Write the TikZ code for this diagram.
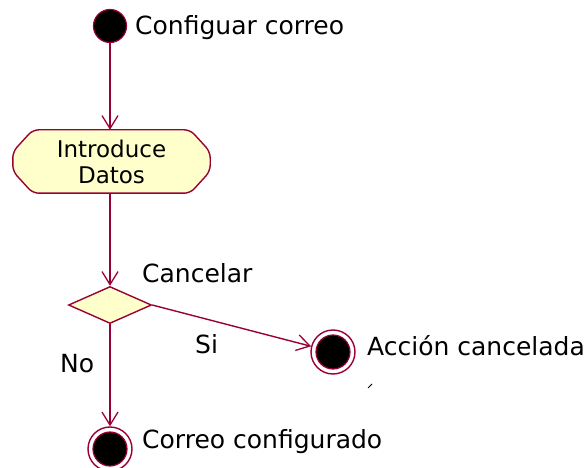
\documentclass[tikz,border=0pt]{standalone}
\usepackage{fontspec}
\setmainfont{DejaVu Sans}
\usetikzlibrary{shapes.geometric,arrows.meta}
\definecolor{umlline}{RGB}{153,0,51}
\definecolor{umlfill}{RGB}{255,255,204}
\begin{document}
\begin{tikzpicture}[x=1pt,y=-1pt,
  conn/.style={draw=umlline,line width=1.4pt,-{Straight Barb[length=13pt,width=16pt,line width=1.3pt]}},
  lbl/.style={font=\fontsize{25}{26}\selectfont,inner sep=0pt,anchor=base west},
  startstate/.style={circle,fill=black,draw=umlline,line width=1.2pt,minimum size=33pt,inner sep=0pt},
  endouter/.style={circle,draw=umlline,line width=1.4pt,minimum size=44pt,inner sep=0pt},
  endinner/.style={circle,fill=black,draw=umlline,line width=1.2pt,minimum size=34pt,inner sep=0pt},
  activity/.style={rectangle,minimum width=197pt,minimum height=63pt,inner sep=0pt,
    align=center,font=\fontsize{23}{26}\selectfont},
  actborder/.style={draw=umlline,fill=umlfill,line width=1.4pt,rounded corners=6pt},
  decision/.style={diamond,draw=umlline,fill=umlfill,line width=1.4pt,minimum width=83pt,minimum height=37pt,inner sep=0pt,aspect=2.24}
]
\useasboundingbox (0,0) rectangle (587,468);
\node[startstate] (start) at (110,26) {};
\node[lbl] (tstart) at (135,35) {Configuar correo};
\node[activity] (act) at (111.5,161.5) {};
\draw[actborder] ([xshift=20pt]act.north west) -- ([xshift=-20pt]act.north east)
  -- ([yshift=-22pt]act.north east) -- ([yshift=22pt]act.south east)
  -- ([xshift=-20pt]act.south east) -- ([xshift=20pt]act.south west)
  -- ([yshift=22pt]act.south west) -- ([yshift=-22pt]act.north west) -- cycle;
\node[activity] (acttext) at (act.center) {Introduce\\Datos};
\node[decision] (dec) at (110,305) {};
\node[lbl] (tcancel) at (142,282) {Cancelar};
\node[endouter] (fcancel) at (333,352) {};
\node[endinner] (fcanceli) at (fcancel.center) {};
\node[lbl] (tfcancel) at (367,355) {Acción cancelada};
\node[endouter] (fok) at (110,449) {};
\node[endinner] (foki) at (fok.center) {};
\node[lbl] (tfok) at (142,448) {Correo configurado};
\node[lbl] (tsi) at (195,353) {Si};
\node[lbl] (tno) at (60,372) {No};
\draw[conn] (start.south) -- (start.south |- act.north);
\draw[conn] (act.south -| dec.north) -- (dec.north);
\draw[conn] (dec.east) -- (fcancel);
\draw[conn] (dec.south) -- (fok.north);
\coordinate (tick1) at (368,388);
\coordinate (tick2) at (372,384);
\draw[black,line width=1pt] (tick1) -- (tick2);
\end{tikzpicture}
\end{document}
